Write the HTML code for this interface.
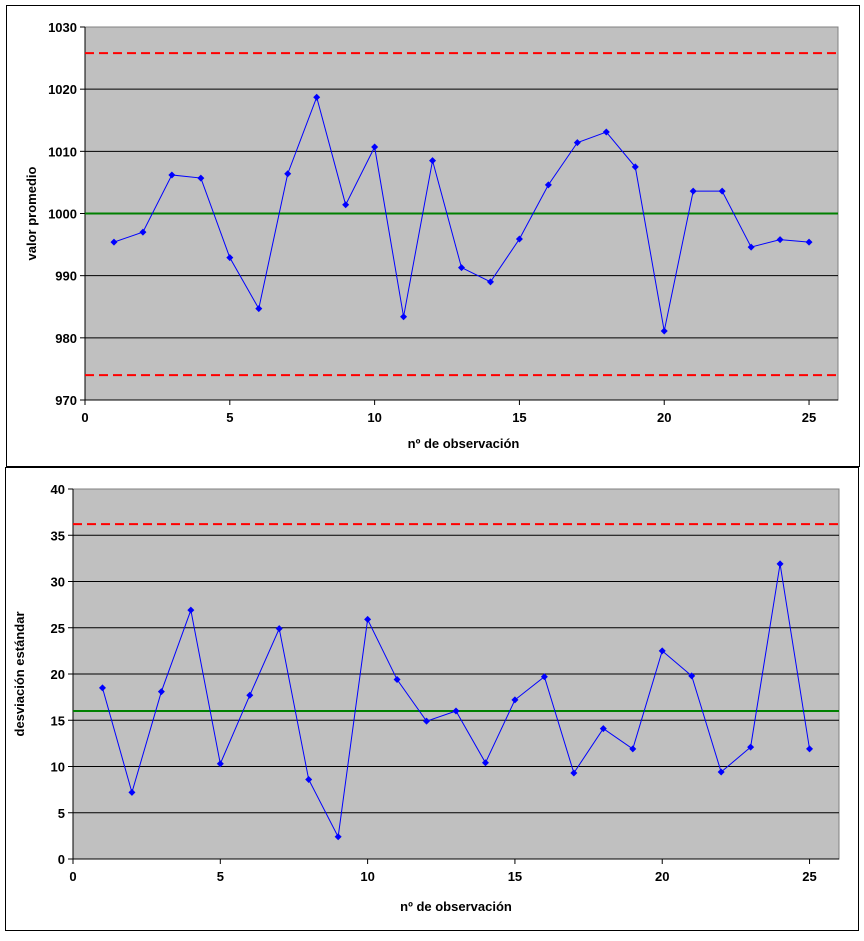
<!DOCTYPE html>
<html><head><meta charset="utf-8"><style>
body{margin:0;background:#fff;}
svg text{font-family:"Liberation Sans",sans-serif;font-weight:bold;font-size:13px;fill:#000;}
</style></head><body>
<svg id="s" width="864" height="936" xmlns="http://www.w3.org/2000/svg">
<rect x="6.5" y="5.5" width="853" height="461" fill="#fff" stroke="#000"/>
<rect x="5.5" y="467.5" width="853" height="463" fill="#fff" stroke="#000"/>
<g id="g1"></g>
<g id="g2"></g>
</svg>
<script>
const obs=[1,2,3,4,5,6,7,8,9,10,11,12,13,14,15,16,17,18,19,20,21,22,23,24,25];
const meanValues=[995.4,997.0,1006.2,1005.7,992.9,984.7,1006.4,1018.7,1001.4,1010.7,983.4,1008.5,991.3,989.0,995.9,1004.6,1011.4,1013.1,1007.5,981.1,1003.6,1003.6,994.6,995.8,995.4];
const meanLimits=[974,1000,1025.8];
const meanTicks=[970,980,990,1000,1010,1020,1030];
const sdValues=[18.5,7.2,18.1,26.9,10.3,17.7,24.9,8.6,2.4,25.9,19.4,14.9,16.0,10.4,17.2,19.7,9.3,14.1,11.9,22.5,19.8,9.4,12.1,31.9,11.9];
const sdLimits=[16.0,36.2];
const sdTicks=[0,5,10,15,20,25,30,35,40];
const xTicks=[0,5,10,15,20,25];
const NS='http://www.w3.org/2000/svg';
function mk(p,t,a){const e=document.createElementNS(NS,t);for(const k in a)e.setAttribute(k,a[k]);p.appendChild(e);return e;}
function chart(g,o){
  const L=o.L,R=o.R,T=o.T,B=o.B;
  const X=v=>L+(v-0)/26*(R-L);
  const Y=v=>B-(v-o.ymin)/(o.ymax-o.ymin)*(B-T);
  const bg=mk(g,'rect',{x:L,y:T,width:R-L,height:B-T,fill:'#c0c0c0',stroke:'#808080'});
  
  
  o.yt.forEach(v=>{
    if(v!==o.ymin&&v!==o.ymax){const gl=mk(g,'line',{x1:L,x2:R,y1:Y(v),y2:Y(v),stroke:'#000'});
    
    }
    mk(g,'line',{x1:L-5,x2:L,y1:Y(v),y2:Y(v),stroke:'#000'});
    const t=mk(g,'text',{x:L-8,y:Y(v)+5,'text-anchor':'end','font-size':o.tfs});t.textContent=v;
    
    
  });
  mk(g,'line',{x1:L,x2:L,y1:T,y2:B,stroke:'#000'});
  mk(g,'line',{x1:L,x2:R,y1:B,y2:B,stroke:'#000'});
  xTicks.forEach(v=>{
    mk(g,'line',{x1:X(v),x2:X(v),y1:B,y2:B+5,stroke:'#000'});
    const t=mk(g,'text',{x:X(v),y:B+22,'text-anchor':'middle','font-size':o.tfs});t.textContent=v;
    
    
  });
  o.red.forEach(v=>{const l=mk(g,'line',{x1:L,x2:R,y1:Y(v),y2:Y(v),stroke:'#ff0000','stroke-width':2,'stroke-dasharray':'9,5'});
    
    });
  const c=mk(g,'line',{x1:L,x2:R,y1:Y(o.center),y2:Y(o.center),stroke:'#008000','stroke-width':2});
  
  
  const pts=obs.map((x,i)=>X(x)+','+Y(o.vals[i])).join(' ');
  const pl=mk(g,'polyline',{points:pts,fill:'none',stroke:'#0000ff','stroke-width':1});
  
  
  obs.forEach((x,i)=>{const px=X(x),py=Y(o.vals[i]);
    const m=mk(g,'polygon',{points:`${px},${py-3.5} ${px+3.5},${py} ${px},${py+3.5} ${px-3.5},${py}`,fill:'#0000ff'});
    
    });
  const xt=mk(g,'text',{x:(L+R)/2-(o.xtOff||0),y:o.xtY,'text-anchor':'middle','font-size':o.fs});xt.textContent='nº de observación';
  
  
  const yt=mk(g,'text',{x:0,y:0,'text-anchor':'middle','font-size':o.fs,transform:`translate(${o.ytX},${(T+B)/2}) rotate(-90)`});yt.textContent=o.ytitle;
  
  
}
chart(document.getElementById('g1'),{L:85,R:838,T:27,B:400,ymin:970,ymax:1030,yt:meanTicks,vals:meanValues,red:[meanLimits[0],meanLimits[2]],center:meanLimits[1],xtY:448,ytX:36,ytitle:'valor promedio',fs:13.5,tfs:13.5,xtOff:-2});
chart(document.getElementById('g2'),{L:73,R:839,T:489,B:859,ymin:0,ymax:40,yt:sdTicks,vals:sdValues,red:[sdLimits[1]],center:sdLimits[0],xtY:911,ytX:24,ytitle:'desviación estándar',fs:15.5,tfs:14.5,xtOff:0});
</script>
</body></html>
